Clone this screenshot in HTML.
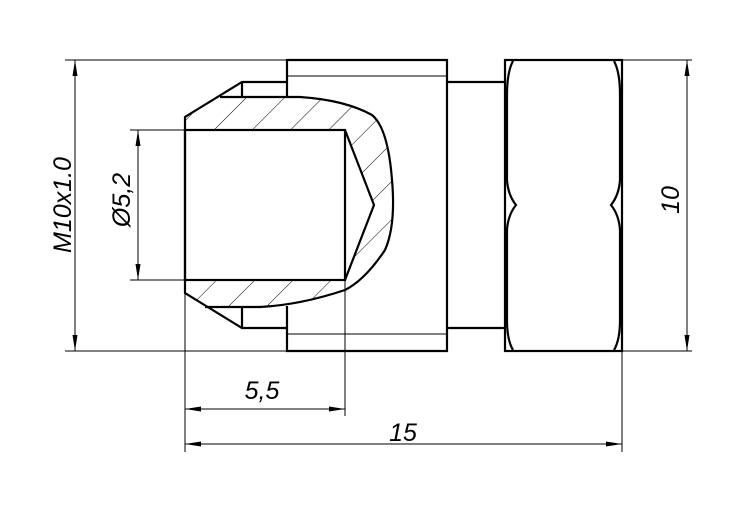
<!DOCTYPE html>
<html><head><style>html,body{margin:0;padding:0;background:#fff}svg{display:block}text{font-family:"Liberation Sans",sans-serif;font-style:italic;font-size:25px;fill:#000}</style></head>
<body>
<svg width="753" height="505" viewBox="0 0 753 505" xmlns="http://www.w3.org/2000/svg">
<defs>
<pattern id="h" patternUnits="userSpaceOnUse" width="27" height="27" patternTransform="rotate(45)">
<line x1="0" y1="0" x2="0" y2="27" stroke="#000" stroke-width="1"/>
</pattern>
</defs>
<path d="M220,97 L300,97 Q345,100 372,115 Q388,128 392,180 Q396,225 385,250 Q365,280 345,290 Q300,305 260,307 L205,307 L185,293 L185,117 Z M185,130 L345,130 L374,205 L345,280 L185,280 Z" fill="url(#h)" fill-rule="evenodd"/>
<g fill="none" stroke="#000" stroke-width="2.2">
<path d="M220,97 L300,97 Q345,100 372,115 Q388,128 392,180 Q396,225 385,250 Q365,280 345,290 Q300,305 260,307 L205,307"/>
<rect x="185" y="130" width="160" height="150"/>
<path d="M345,130 L374,205 L345,280"/>
<path d="M287,82 L242,82 L185,117 L185,293 L242,328 L287,328"/>
<path d="M242,82 L242,97 M242,307 L242,328"/>
<path d="M287,97 L287,60 L447,60 L447,351 L287,351 L287,306"/>
<path d="M447,82 L505,82 M447,328 L505,328"/>
<rect x="505" y="60" width="117" height="291"/>
<path d="M513,61 Q507,72 507,95 L507,180 Q508,195 516,205 Q508,215 507,230 L507,320 Q507,340 513,350"/>
<path d="M614,61 Q620,72 620,95 L620,180 Q619,195 611,205 Q619,215 620,230 L620,320 Q620,340 614,350"/>
</g>
<g fill="none" stroke="#000" stroke-width="1">
<path d="M287,76 L447,76 M287,334 L447,334"/>
<path d="M65,60 L287,60 M65,351 L287,351 M75,60 L75,351"/>
<path d="M130,130 L185,130 M130,280 L185,280 M138,130 L138,280"/>
<path d="M622,60 L692,60 M622,351 L692,351 M687,60 L687,351"/>
<path d="M185,280 L185,452 M345,280 L345,416 M622,351 L622,452"/>
<path d="M185,409 L345,409 M185,444 L622,444"/>
</g>
<g fill="#000">
<path d="M75,60 l-2.5,16 l5,0 Z M75,351 l-2.5,-16 l5,0 Z"/>
<path d="M138,130 l-2.5,16 l5,0 Z M138,280 l-2.5,-16 l5,0 Z"/>
<path d="M687,60 l-2.5,16 l5,0 Z M687,351 l-2.5,-16 l5,0 Z"/>
<path d="M185,409 l16,-2.5 l0,5 Z M345,409 l-16,-2.5 l0,5 Z"/>
<path d="M185,444 l16,-2.5 l0,5 Z M622,444 l-16,-2.5 l0,5 Z"/>
</g>
<text x="262" y="399" text-anchor="middle">5,5</text>
<text x="403" y="441" text-anchor="middle">15</text>
<text transform="translate(679,200) rotate(-90)" text-anchor="middle">10</text>
<text transform="translate(71,205) rotate(-90)" text-anchor="middle">M10x1.0</text>
<text transform="translate(130,200) rotate(-90)" text-anchor="middle">Ø5,2</text>
</svg>
</body></html>
